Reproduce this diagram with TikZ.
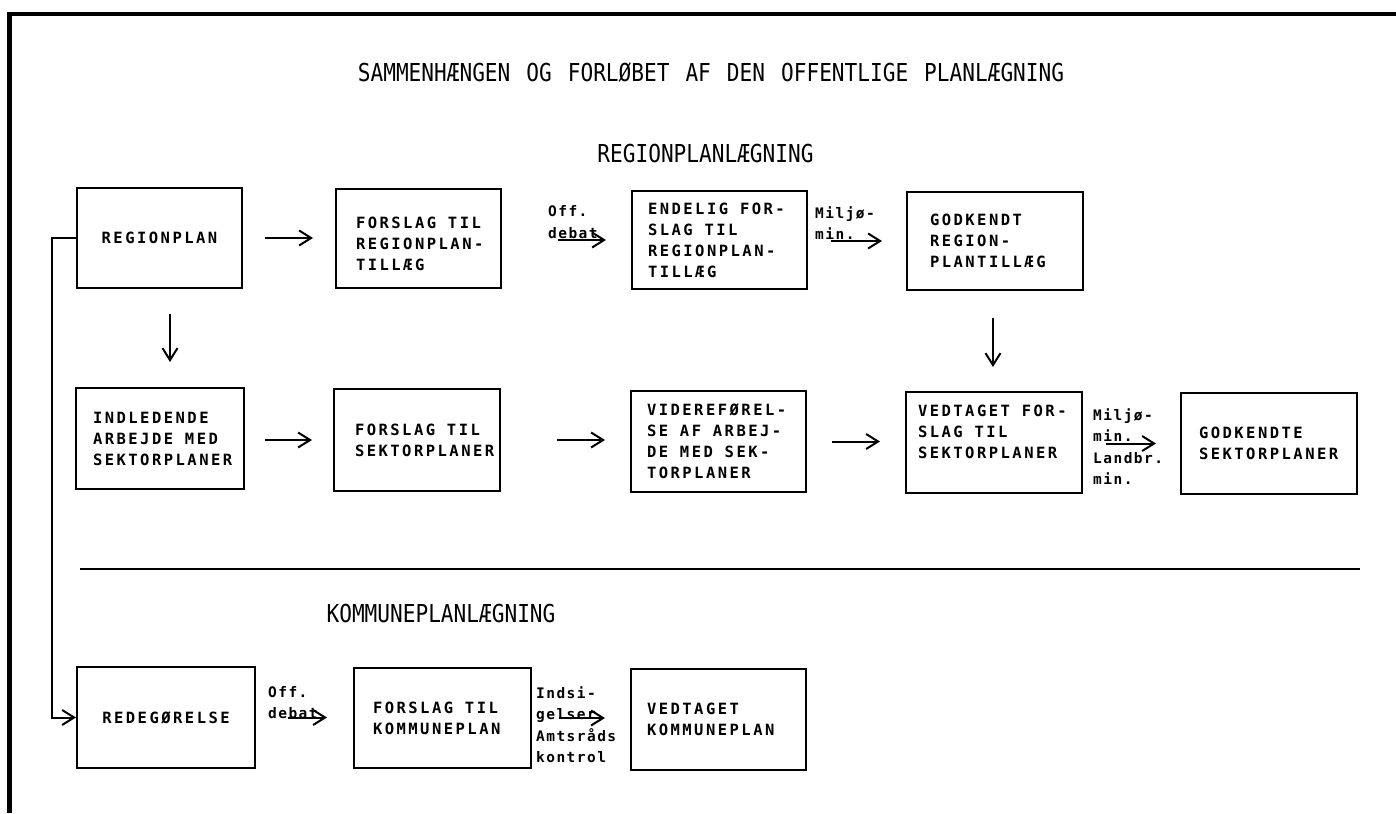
\documentclass[tikz,border=0pt]{standalone}
\usepackage{fontspec}
\usetikzlibrary{arrows.meta}
\newfontfamily\boxfnt{DejaVu Sans Mono}[LetterSpace=16]
\newfontfamily\labfnt{DejaVu Sans Mono}[LetterSpace=10]
\newfontfamily\titfnt{DejaVu Sans Mono}[FakeStretch=0.855]
\newcommand\bsp{\kern11.8pt}
\newcommand\tsp{\kern16pt}
\exhyphenpenalty=10000
\hyphenpenalty=10000
\begin{document}
\begin{tikzpicture}[x=1pt,y=-1pt,
  box/.style={draw, line width=2pt, align=left, inner xsep=0pt, inner ysep=0pt,
    font=\boxfnt\bfseries\fontsize{15.5}{21}\selectfont},
  lab/.style={anchor=base west, align=left, inner sep=0pt,
    font=\labfnt\bfseries\fontsize{14.5}{21.5}\selectfont},
  tit/.style={anchor=base, inner sep=0pt, font=\titfnt\fontsize{24.7}{28}\selectfont},
  arr/.style={line width=2pt, -{Straight Barb[length=12pt,width=15pt]}},
  frame/.style={line width=4.5pt},
  sep/.style={line width=1.6pt}
]
\useasboundingbox (0,0) rectangle (1396,813);
\draw[frame] (9.5,813) -- (9.5,14) -- (1396,14);

% titles
\node[tit] (T0) at (711,82) {SAMMENHÆNGEN\tsp OG\tsp FORLØBET\tsp AF\tsp DEN\tsp OFFENTLIGE\tsp PLANLÆGNING};
\node[tit] (T1) at (705.5,163) {REGIONPLANLÆGNING};
\node[tit] (T2) at (441,622) {KOMMUNEPLANLÆGNING};

% row 1
\node[box, align=center, minimum width=165pt, minimum height=100pt, text width=140pt] (A) at (159.5,238) {REGIONPLAN};
\node[box, minimum width=165pt, minimum height=99pt, text width=125pt] (B) at (418.5,238.5) {\rule{0pt}{22pt}FORSLAG\bsp TIL\\REGIONPLAN-\\TILLÆG};
\node[box, minimum width=175pt, minimum height=98pt, text width=143pt] (C) at (719.5,240) {ENDELIG\bsp FOR-\\SLAG\bsp TIL\\REGIONPLAN-\\TILLÆG};
\node[box, minimum width=176pt, minimum height=98pt, text width=130pt] (D) at (995,241) {GODKENDT\\REGION-\\PLANTILLÆG};

% row 2
\node[box, minimum width=168pt, minimum height=101pt, text width=134pt] (E) at (160,438.5) {INDLEDENDE\\ARBEJDE\bsp MED\\SEKTORPLANER};
\node[box, minimum width=166pt, minimum height=102pt, text width=124pt] (F) at (417,440) {FORSLAG\bsp TIL\\SEKTORPLANER};
\node[box, minimum width=175pt, minimum height=101pt, text width=143pt] (G) at (718.5,441.5) {VIDEREFØREL-\\SE\bsp AF\bsp ARBEJ-\\DE\bsp MED\bsp SEK-\\TORPLANER};
\node[box, minimum width=176pt, minimum height=101pt, text width=152pt] (H) at (994,442.5) {VEDTAGET\bsp FOR-\\SLAG\bsp TIL\\SEKTORPLANER\\\mbox{}};
\node[box, minimum width=176pt, minimum height=101pt, text width=140pt] (I) at (1269,443.5) {GODKENDTE\\SEKTORPLANER};

% row 3
\node[box, align=center, minimum width=178pt, minimum height=101pt, text width=150pt] (J) at (166,717.5) {REDEGØRELSE};
\node[box, minimum width=177pt, minimum height=100pt, text width=139pt] (K) at (442.5,718) {FORSLAG\bsp TIL\\KOMMUNEPLAN};
\node[box, minimum width=175pt, minimum height=101pt, text width=143pt] (L) at (718.5,719.5) {VEDTAGET\\KOMMUNEPLAN};

% labels (anchor = baseline of the last line)
\node[lab] (L1) at (548,238) {Off.\\debat};
\node[lab] (L2) at (815,239.5) {Miljø-\\min.};
\node[lab] (L3) at (1093,484.5) {Miljø-\\min.\\Landbr.\\min.};
\node[lab] (L4) at (268,718.5) {Off.\\debat};
\node[lab] (L5) at (536,762.5) {Indsi-\\gelser\\Amtsråds\\kontrol};

% separator
\coordinate (S1) at (80,569);
\coordinate (S2) at (1360,569);
\draw[sep] (S1) -- (S2);

% arrows row 1
\draw[arr, shorten <=22pt, shorten >=22pt] (A.east) -- (A.east -| B.west);
\draw[arr, shorten <=56pt, shorten >=25pt] (B.east |- C.west) -- (C.west);
\draw[arr, shorten <=23pt, shorten >=24pt] (C.east |- D.west) -- (D.west);
% down arrows
\draw[arr, shorten <=25pt, shorten >=25pt] ([xshift=10.5pt]A.south) -- ([xshift=10.5pt]A.south |- E.north);
\draw[arr, shorten <=27pt, shorten >=24pt] ([xshift=-2pt]D.south) -- ([xshift=-2pt]D.south |- H.north);
% arrows row 2
\draw[arr, shorten <=20pt, shorten >=21pt] (F.west -| E.east) -- (F.west);
\draw[arr, shorten <=56pt, shorten >=25pt] (F.east) -- (F.east -| G.west);
\draw[arr, shorten <=25pt, shorten >=25pt] (G.east) -- (G.east -| H.west);
\draw[arr, shorten <=23pt, shorten >=24pt] (H.east |- I.west) -- (I.west);
% arrows row 3
\draw[arr, shorten <=32pt, shorten >=26pt] (J.east) -- (J.east -| K.west);
\draw[arr, shorten <=27pt, shorten >=25pt] (K.east) -- (K.east -| L.west);
% left connector
\draw[arr] (A.west) -- ++(-24,0) |- (J.west);
\end{tikzpicture}
\end{document}
